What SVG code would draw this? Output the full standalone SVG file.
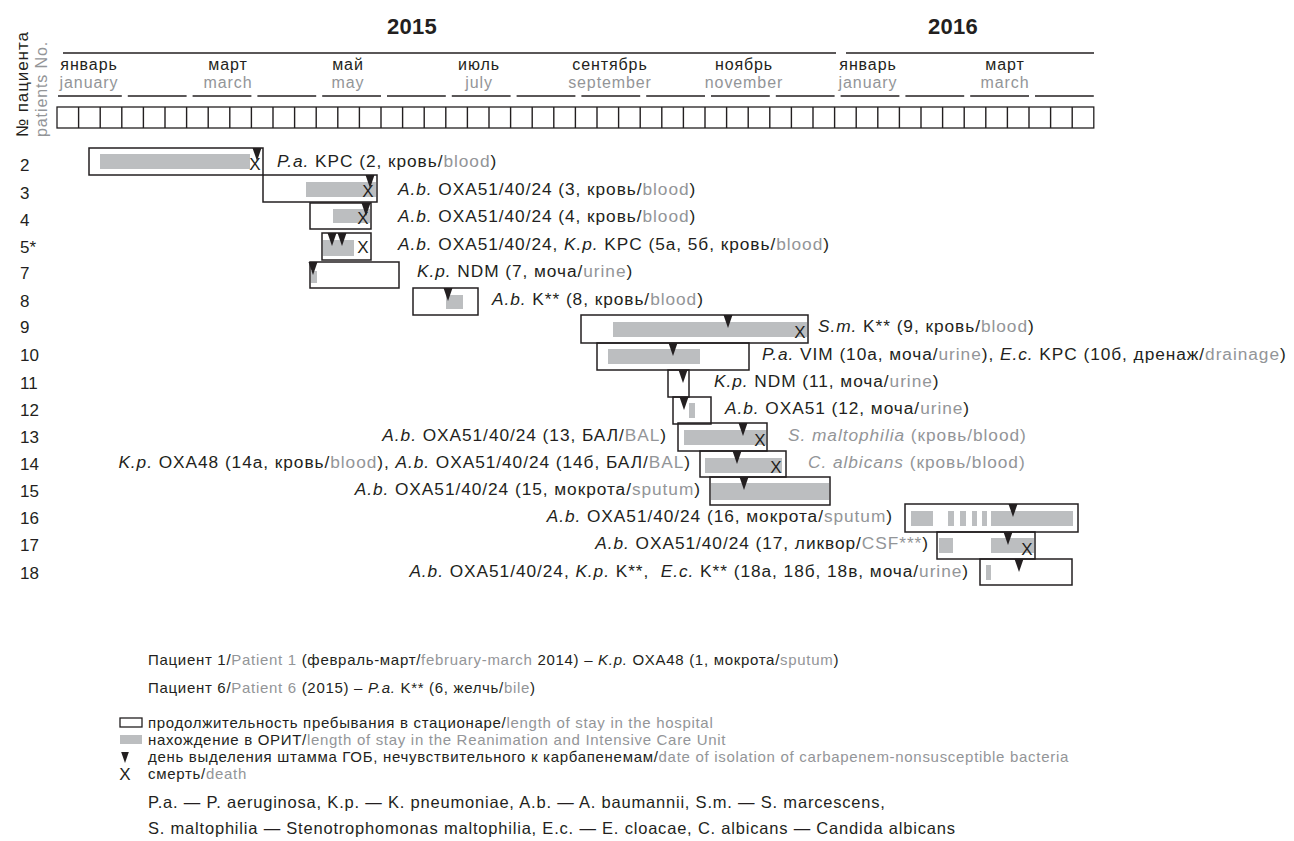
<svg xmlns="http://www.w3.org/2000/svg" xmlns:xlink="http://www.w3.org/1999/xlink" width="1294" height="841" viewBox="0 0 1294 841">
<style>
text{font-family:"Liberation Sans",Arial,sans-serif;fill:#231f20}
.t{font-size:17.3px;letter-spacing:0.95px}
.n{font-size:17px}
.m{font-size:16px;letter-spacing:0.9px;text-anchor:middle}
.y{font-size:22px;font-weight:bold;letter-spacing:0.3px}
.l{font-size:15px;letter-spacing:0.7px}
.a{font-size:16.5px;letter-spacing:0.8px}
.g{fill:#939598}
.i{font-style:italic}
.x{font-size:17px;text-anchor:middle}
.e{text-anchor:end}
.box{fill:none;stroke:#231f20;stroke-width:1.5}
.bar{fill:#bcbec0}
.ln{stroke:#231f20;stroke-width:1.4}
.cell{fill:none;stroke:#231f20;stroke-width:1.3}
</style>
<defs>
<path id="tri" d="M-4.5,0 L4.5,0 L0,13 Z" fill="#231f20"/>
</defs>

<g id="header">
<text class="y" x="387" y="34">2015</text>
<text class="y" x="928" y="34">2016</text>
<line class="ln" x1="63" y1="53" x2="836" y2="53"/>
<line class="ln" x1="846" y1="53" x2="1094" y2="53"/>
<text class="n" transform="translate(28,137) rotate(-90)" style="letter-spacing:0.9px">№ пациента</text>
<text class="n g" transform="translate(47,137) rotate(-90)" style="font-size:16px;letter-spacing:0.9px">patients No.</text>
<g id="months">
<text class="m" x="89" y="70">январь</text><text class="m g" x="89" y="88">january</text>
<text class="m" x="228" y="70">март</text><text class="m g" x="228" y="88">march</text>
<text class="m" x="348" y="70">май</text><text class="m g" x="348" y="88">may</text>
<text class="m" x="479" y="70">июль</text><text class="m g" x="479" y="88">july</text>
<text class="m" x="610" y="70">сентябрь</text><text class="m g" x="610" y="88">september</text>
<text class="m" x="744" y="70">ноябрь</text><text class="m g" x="744" y="88">november</text>
<text class="m" x="868" y="70">январь</text><text class="m g" x="868" y="88">january</text>
<text class="m" x="1005" y="70">март</text><text class="m g" x="1005" y="88">march</text>
</g>
<g id="month-lines" class="ln">
<line x1="58" y1="96" x2="121.8" y2="96"/>
<line x1="127.8" y1="96" x2="186.6" y2="96"/>
<line x1="192.6" y1="96" x2="251.4" y2="96"/>
<line x1="257.4" y1="96" x2="316.2" y2="96"/>
<line x1="322.2" y1="96" x2="381" y2="96"/>
<line x1="387" y1="96" x2="445.8" y2="96"/>
<line x1="451.8" y1="96" x2="510.6" y2="96"/>
<line x1="516.6" y1="96" x2="575.4" y2="96"/>
<line x1="581.4" y1="96" x2="640.2" y2="96"/>
<line x1="646.2" y1="96" x2="705" y2="96"/>
<line x1="711" y1="96" x2="769.8" y2="96"/>
<line x1="775.8" y1="96" x2="834.6" y2="96"/>
<line x1="840.6" y1="96" x2="899.4" y2="96"/>
<line x1="905.4" y1="96" x2="964.2" y2="96"/>
<line x1="970.2" y1="96" x2="1029" y2="96"/>
<line x1="1035" y1="96" x2="1093.8" y2="96"/>
</g>
<g id="grid">
<rect class="cell" x="57" y="107" width="1036.8" height="21"/>
<path class="ln" fill="none" d="M78.6,107V128M100.2,107V128M121.8,107V128M143.4,107V128M165,107V128M186.6,107V128M208.2,107V128M229.8,107V128M251.4,107V128M273,107V128M294.6,107V128M316.2,107V128M337.8,107V128M359.4,107V128M381,107V128M402.6,107V128M424.2,107V128M445.8,107V128M467.4,107V128M489,107V128M510.6,107V128M532.2,107V128M553.8,107V128M575.4,107V128M597,107V128M618.6,107V128M640.2,107V128M661.8,107V128M683.4,107V128M705,107V128M726.6,107V128M748.2,107V128M769.8,107V128M791.4,107V128M813,107V128M834.6,107V128M856.2,107V128M877.8,107V128M899.4,107V128M921,107V128M942.6,107V128M964.2,107V128M985.8,107V128M1007.4,107V128M1029,107V128M1050.6,107V128M1072.2,107V128"/>
</g>
</g>

<g id="labels">
<text class="n" x="20" y="171">2</text>
<text class="n" x="20" y="199">3</text>
<text class="n" x="20" y="226">4</text>
<text class="n" x="20" y="253">5*</text>
<text class="n" x="20" y="279">7</text>
<text class="n" x="20" y="307">8</text>
<text class="n" x="20" y="333">9</text>
<text class="n" x="20" y="361">10</text>
<text class="n" x="20" y="389">11</text>
<text class="n" x="20" y="416">12</text>
<text class="n" x="20" y="443">13</text>
<text class="n" x="20" y="470">14</text>
<text class="n" x="20" y="497">15</text>
<text class="n" x="20" y="524">16</text>
<text class="n" x="20" y="551">17</text>
<text class="n" x="20" y="579">18</text>
</g>

<g id="row-2">
<rect class="bar" x="100" y="154" width="150" height="15"/>
<rect class="box" x="89" y="148" width="174" height="27"/>
<use xlink:href="#tri" x="257" y="148"/>
<text class="x" x="255" y="170">X</text>
<text class="t" x="277" y="167"><tspan class="i">P.a.</tspan> KPC (2, кровь/<tspan class="g">blood</tspan>)</text>
</g>
<g id="row-3">
<rect class="bar" x="306" y="182" width="70" height="15"/>
<rect class="box" x="263" y="175" width="114" height="27"/>
<use xlink:href="#tri" x="370" y="175"/>
<text class="x" x="368" y="197">X</text>
<text class="t" x="398" y="195"><tspan class="i">A.b.</tspan> OXA51/40/24 (3, кровь/<tspan class="g">blood</tspan>)</text>
</g>
<g id="row-4">
<rect class="bar" x="333" y="209" width="37" height="14"/>
<rect class="box" x="310" y="203" width="61" height="26"/>
<use xlink:href="#tri" x="366" y="203"/>
<text class="x" x="363" y="224">X</text>
<text class="t" x="398" y="222"><tspan class="i">A.b.</tspan> OXA51/40/24 (4, кровь/<tspan class="g">blood</tspan>)</text>
</g>
<g id="row-5">
<rect class="bar" x="323" y="240" width="31" height="16"/>
<rect class="box" x="322" y="233" width="49" height="27"/>
<use xlink:href="#tri" x="332" y="233"/>
<use xlink:href="#tri" x="342" y="233"/>
<text class="x" x="363" y="253">X</text>
<text class="t" x="398" y="250"><tspan class="i">A.b.</tspan> OXA51/40/24, <tspan class="i">K.p.</tspan> KPC (5а, 5б, кровь/<tspan class="g">blood</tspan>)</text>
</g>
<g id="row-7">
<rect class="bar" x="311" y="271" width="6" height="12"/>
<rect class="box" x="310" y="262" width="89" height="26"/>
<use xlink:href="#tri" x="313" y="262"/>
<text class="t" x="417" y="277"><tspan class="i">K.p.</tspan> NDM (7, моча/<tspan class="g">urine</tspan>)</text>
</g>
<g id="row-8">
<rect class="bar" x="446" y="295" width="17" height="14"/>
<rect class="box" x="413" y="288" width="65" height="27"/>
<use xlink:href="#tri" x="448" y="288"/>
<text class="t" x="492" y="305"><tspan class="i">A.b.</tspan> K** (8, кровь/<tspan class="g">blood</tspan>)</text>
</g>
<g id="row-9">
<rect class="bar" x="613" y="322" width="194" height="15"/>
<rect class="box" x="581" y="315" width="227" height="28"/>
<use xlink:href="#tri" x="728" y="315"/>
<text class="x" x="800" y="338">X</text>
<text class="t" x="818" y="332"><tspan class="i">S.m.</tspan> K** (9, кровь/<tspan class="g">blood</tspan>)</text>
</g>
<g id="row-10">
<rect class="bar" x="608" y="349" width="92" height="15"/>
<rect class="box" x="597" y="343" width="152" height="27"/>
<use xlink:href="#tri" x="673" y="343"/>
<text class="t" x="762" y="360"><tspan class="i">P.a.</tspan> VIM (10а, моча/<tspan class="g">urine</tspan>), <tspan class="i">E.c.</tspan> KPC (10б, дренаж/<tspan class="g">drainage</tspan>)</text>
</g>
<g id="row-11">
<rect class="box" x="668" y="370" width="21" height="27"/>
<use xlink:href="#tri" x="683" y="370"/>
<text class="t" x="714" y="387"><tspan class="i">K.p.</tspan> NDM (11, моча/<tspan class="g">urine</tspan>)</text>
</g>
<g id="row-12">
<rect class="bar" x="689" y="403" width="6" height="15"/>
<rect class="box" x="673" y="397" width="38" height="27"/>
<use xlink:href="#tri" x="684" y="397"/>
<text class="t" x="725" y="414"><tspan class="i">A.b.</tspan> OXA51 (12, моча/<tspan class="g">urine</tspan>)</text>
</g>
<g id="row-13">
<rect class="bar" x="684" y="430" width="82" height="15"/>
<rect class="box" x="678" y="423" width="89" height="28"/>
<use xlink:href="#tri" x="743" y="423"/>
<text class="x" x="760" y="446">X</text>
<text class="t e" x="667" y="441"><tspan class="i">A.b.</tspan> OXA51/40/24 (13, БАЛ/<tspan class="g">BAL</tspan>)</text>
<text class="t g" x="788" y="441"><tspan class="i">S. maltophilia</tspan> (кровь/blood)</text>
</g>
<g id="row-14">
<rect class="bar" x="705" y="458" width="77" height="15"/>
<rect class="box" x="700" y="451" width="86" height="26"/>
<use xlink:href="#tri" x="737" y="451"/>
<text class="x" x="776" y="473">X</text>
<text class="t e" x="691" y="468"><tspan class="i">K.p.</tspan> OXA48 (14а, кровь/<tspan class="g">blood</tspan>), <tspan class="i">A.b.</tspan> OXA51/40/24 (14б, БАЛ/<tspan class="g">BAL</tspan>)</text>
<text class="t g" x="808" y="468"><tspan class="i">C. albicans</tspan> (кровь/blood)</text>
</g>
<g id="row-15">
<rect class="bar" x="711" y="483" width="118" height="17"/>
<rect class="box" x="710" y="477" width="120" height="28"/>
<use xlink:href="#tri" x="744" y="477"/>
<text class="t e" x="701" y="495"><tspan class="i">A.b.</tspan> OXA51/40/24 (15, мокрота/<tspan class="g">sputum</tspan>)</text>
</g>
<g id="row-16">
<rect class="bar" x="911" y="511" width="22" height="15"/>
<rect class="bar" x="948" y="511" width="6" height="15"/>
<rect class="bar" x="960" y="511" width="6" height="15"/>
<rect class="bar" x="972" y="511" width="5" height="15"/>
<rect class="bar" x="982" y="511" width="5" height="15"/>
<rect class="bar" x="991" y="511" width="82" height="15"/>
<rect class="box" x="905" y="504" width="173" height="28"/>
<use xlink:href="#tri" x="1013" y="504"/>
<text class="t e" x="893" y="522"><tspan class="i">A.b.</tspan> OXA51/40/24 (16, мокрота/<tspan class="g">sputum</tspan>)</text>
</g>
<g id="row-17">
<rect class="bar" x="939" y="538" width="14" height="15"/>
<rect class="bar" x="991" y="538" width="43" height="15"/>
<rect class="box" x="937" y="532" width="98" height="27"/>
<use xlink:href="#tri" x="1008" y="532"/>
<text class="x" x="1027" y="555">X</text>
<text class="t e" x="929" y="549"><tspan class="i">A.b.</tspan> OXA51/40/24 (17, ликвор/<tspan class="g">CSF***</tspan>)</text>
</g>
<g id="row-18">
<rect class="bar" x="986" y="565" width="5" height="15"/>
<rect class="box" x="980" y="559" width="92" height="26"/>
<use xlink:href="#tri" x="1019" y="559"/>
<text class="t e" x="969" y="577" xml:space="preserve"><tspan class="i">A.b.</tspan> OXA51/40/24, <tspan class="i">K.p.</tspan> K**,  <tspan class="i">E.c.</tspan> K** (18а, 18б, 18в, моча/<tspan class="g">urine</tspan>)</text>
</g>

<g id="notes">
<text class="l" x="148" y="665">Пациент 1/<tspan class="g">Patient 1</tspan> (февраль-март/<tspan class="g">february-march</tspan> 2014) – <tspan class="i">K.p.</tspan> OXA48 (1, мокрота/<tspan class="g">sputum</tspan>)</text>
<text class="l" x="148" y="693">Пациент 6/<tspan class="g">Patient 6</tspan> (2015) – <tspan class="i">P.a.</tspan> K** (6, желчь/<tspan class="g">bile</tspan>)</text>
</g>

<g id="legend">
<rect class="box" x="120" y="718" width="22" height="9" style="stroke-width:1.3"/>
<text class="l" x="148" y="728">продолжительность пребывания в стационаре/<tspan class="g">length of stay in the hospital</tspan></text>
<rect class="bar" x="120" y="735" width="22" height="9"/>
<text class="l" x="148" y="745">нахождение в ОРИТ/<tspan class="g">length of stay in the Reanimation and Intensive Care Unit</tspan></text>
<use xlink:href="#tri" x="125" y="752" transform="translate(125,752) scale(0.85) translate(-125,-752)"/>
<text class="l" x="148" y="762">день выделения штамма ГОБ, нечувствительного к карбапенемам/<tspan class="g">date of isolation of carbapenem-nonsusceptible bacteria</tspan></text>
<text class="x" x="125" y="780">X</text>
<text class="l" x="148" y="779">смерть/<tspan class="g">death</tspan></text>
<text class="a" x="148" y="808">P.a. — P. aeruginosa, K.p. — K. pneumoniae, A.b. — A. baumannii, S.m. — S. marcescens,</text>
<text class="a" x="148" y="834">S. maltophilia — Stenotrophomonas maltophilia, E.c. — E. cloacae, C. albicans — Candida albicans</text>
</g>
</svg>
